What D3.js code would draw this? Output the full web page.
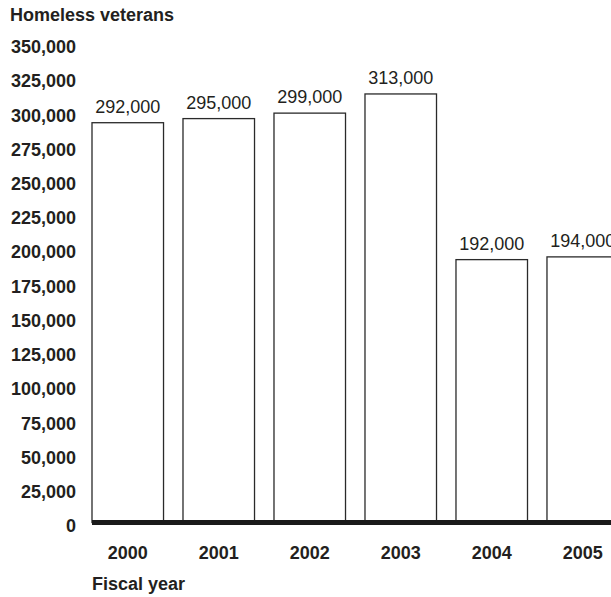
<!DOCTYPE html>
<html>
<head>
<meta charset="utf-8">
<script src="https://cdn.jsdelivr.net/npm/d3@7/dist/d3.min.js"></script>
<style>
  html, body { margin: 0; padding: 0; background: #fff; }
  svg { display: block; }
  text { font-family: "Liberation Sans", Arial, Helvetica, sans-serif; fill: #231f20; }
</style>
</head>
<body>
<svg id="chart" width="611" height="597"></svg>
<script>
// Homeless veterans by fiscal year
const years = ["2000", "2001", "2002", "2003", "2004", "2005"];
const veterans = [292000, 295000, 299000, 313000, 192000, 194000];
const yTicks = [0, 25000, 50000, 75000, 100000, 125000, 150000, 175000,
                200000, 225000, 250000, 275000, 300000, 325000, 350000];

const svg = d3.select("#chart");
const fmt = d3.format(",");

const x = d3.scaleBand()
  .domain(years)
  .range([92, 618.5])
  .paddingInner(0.214)
  .paddingOuter(0);

const y = d3.scaleLinear()
  .domain([0, 350000])
  .range([522.5, 43.3]);

// Y axis labels (no tick marks, no domain line)
const yAxis = svg.append("g")
  .attr("transform", "translate(76,0)")
  .call(d3.axisLeft(y).tickValues(yTicks).tickSize(0).tickPadding(0).tickFormat(fmt));
yAxis.select(".domain").remove();
yAxis.selectAll("text")
  .attr("dy", "9.3")
  .attr("x", 0)
  .style("font-size", "18px")
  .style("font-weight", "bold")
  .style("font-family", "'Liberation Sans', Arial, sans-serif")
  .attr("fill", "#231f20");

// Bars
svg.append("g").selectAll("rect")
  .data(years)
  .join("rect")
  .attr("x", d => x(d))
  .attr("y", (d, i) => y(veterans[i]))
  .attr("width", x.bandwidth())
  .attr("height", (d, i) => y(0) - y(veterans[i]))
  .attr("fill", "#fff")
  .attr("stroke", "#2a2a2a")
  .attr("stroke-width", 1.3);

// Value labels above bars
svg.append("g").selectAll("text")
  .data(years)
  .join("text")
  .attr("x", d => x(d) + x.bandwidth() / 2)
  .attr("y", (d, i) => y(veterans[i]) - 10)
  .attr("text-anchor", "middle")
  .style("font-size", "18px")
  .text((d, i) => fmt(veterans[i]));

// Heavy baseline
svg.append("line")
  .attr("x1", 92)
  .attr("x2", 611)
  .attr("y1", y(0))
  .attr("y2", y(0))
  .attr("stroke", "#1a1a1a")
  .attr("stroke-width", 5);

// X axis labels
const xAxis = svg.append("g")
  .attr("transform", `translate(0,${y(0)})`)
  .call(d3.axisBottom(x).tickSize(0).tickPadding(0));
xAxis.select(".domain").remove();
xAxis.selectAll("text")
  .attr("dy", null)
  .attr("y", 36)
  .style("font-size", "18px")
  .style("font-weight", "bold")
  .style("font-family", "'Liberation Sans', Arial, sans-serif")
  .attr("fill", "#231f20");

// Axis titles
svg.append("text")
  .attr("x", 10)
  .attr("y", 20.5)
  .style("font-size", "18px")
  .style("font-weight", "bold")
  .text("Homeless veterans");

svg.append("text")
  .attr("x", 92)
  .attr("y", 590)
  .style("font-size", "18px")
  .style("font-weight", "bold")
  .text("Fiscal year");
</script>
</body>
</html>
